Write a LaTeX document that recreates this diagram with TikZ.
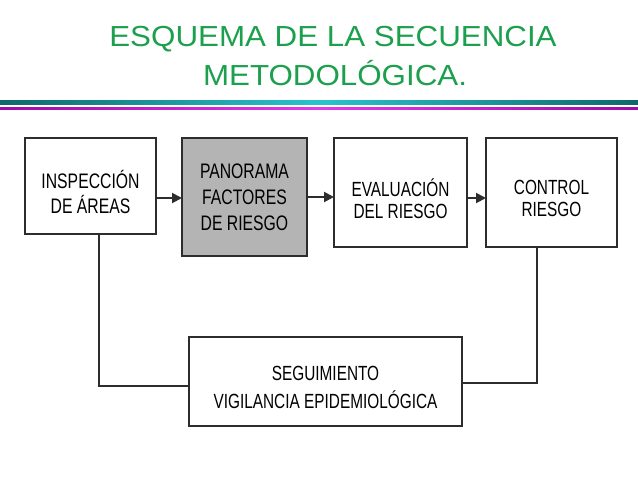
\documentclass[tikz,border=0pt]{standalone}
\usepackage{fontspec}
\setmainfont{Liberation Sans}
\newfontfamily\titlefont[FakeStretch=1.08]{Liberation Sans}
\newfontfamily\boxfont[FakeStretch=0.75]{Liberation Sans}
\usetikzlibrary{arrows.meta}
\definecolor{titlegreen}{RGB}{28,160,78}
\definecolor{tealdark}{RGB}{14,104,108}
\definecolor{tealmid}{RGB}{40,196,204}
\definecolor{magdark}{RGB}{160,10,170}
\definecolor{magmid}{RGB}{225,60,235}
\definecolor{boxgray}{RGB}{180,180,180}
\definecolor{edge}{RGB}{45,45,45}
\newcommand{\lowerby}[1]{\rule{0pt}{#1}}
\tikzset{
  stagebox/.style={draw=edge, line width=1.7pt, fill=white, inner sep=0pt, outer sep=0pt,
    align=center, text=black},
  arr/.style={draw=edge, line width=2pt, -{Triangle[length=10pt,width=10pt]}},
  link/.style={draw=edge, line width=1.1pt},
  titletext/.style={text=titlegreen, font=\titlefont\fontsize{29}{39}\selectfont, inner sep=0pt, anchor=base}
}
\begin{document}
\begin{tikzpicture}[x=1pt,y=-1pt]
\useasboundingbox (0,0) rectangle (638,479);
\fill[white] (0,0) rectangle (638,479);
% title
\node[titletext] (t1) at (333,46) {ESQUEMA DE LA SECUENCIA};
\node[titletext] (t2) at (335,85) {METODOLÓGICA.};
% rules
\shade[left color=tealdark, right color=tealdark, middle color=tealmid] (0,100) rectangle (638,104.5);
\shade[left color=magdark, right color=magdark, middle color=magmid] (0,107) rectangle (638,109.5);
% boxes
\node[stagebox, minimum width=131pt, minimum height=96pt,
  font=\boxfont\fontsize{21}{25}\selectfont] (b1) at (90.5,186) {\lowerby{30pt}INSPECCIÓN\\DE ÁREAS};
\node[stagebox, fill=boxgray, minimum width=125pt, minimum height=118pt,
  font=\boxfont\fontsize{21}{26}\selectfont] (b2) at (244.5,197) {PANORAMA\\FACTORES\\DE RIESGO};
\node[stagebox, minimum width=133pt, minimum height=109pt,
  font=\boxfont\fontsize{20.5}{22}\selectfont] (b3) at (400.5,192.5) {\lowerby{31pt}EVALUACIÓN\\DEL RIESGO};
\node[stagebox, minimum width=131pt, minimum height=109pt,
  font=\boxfont\fontsize{20.5}{22}\selectfont] (b4) at (551.5,192.5) {\lowerby{26pt}CONTROL\\RIESGO};
\node[stagebox, minimum width=273pt, minimum height=89pt,
  font=\boxfont\fontsize{20.5}{28}\selectfont] (b5) at (325.5,381.5) {\lowerby{26pt}SEGUIMIENTO\\VIGILANCIA EPIDEMIOLÓGICA};
% arrows
\path ([yshift=-12pt]b1.east) coordinate (a1);
\draw[arr] (a1) -- (a1 -| b2.west);
\draw[arr] (b2.east) -- (b2.east -| b3.west);
\path ([yshift=-5.5pt]b3.east) coordinate (a3);
\draw[arr] (a3) -- (a3 -| b4.west);
% feedback links
\path ([xshift=8.5pt]b1.south) coordinate (l1);
\path ([yshift=-4.5pt]b5.west) coordinate (l1e);
\draw[link] (l1) |- (l1e);
\path ([xshift=-14.5pt]b4.south) coordinate (l4);
\path ([yshift=-1.5pt]b5.east) coordinate (l4e);
\draw[link] (l4) |- (l4e);
\end{tikzpicture}
\end{document}
